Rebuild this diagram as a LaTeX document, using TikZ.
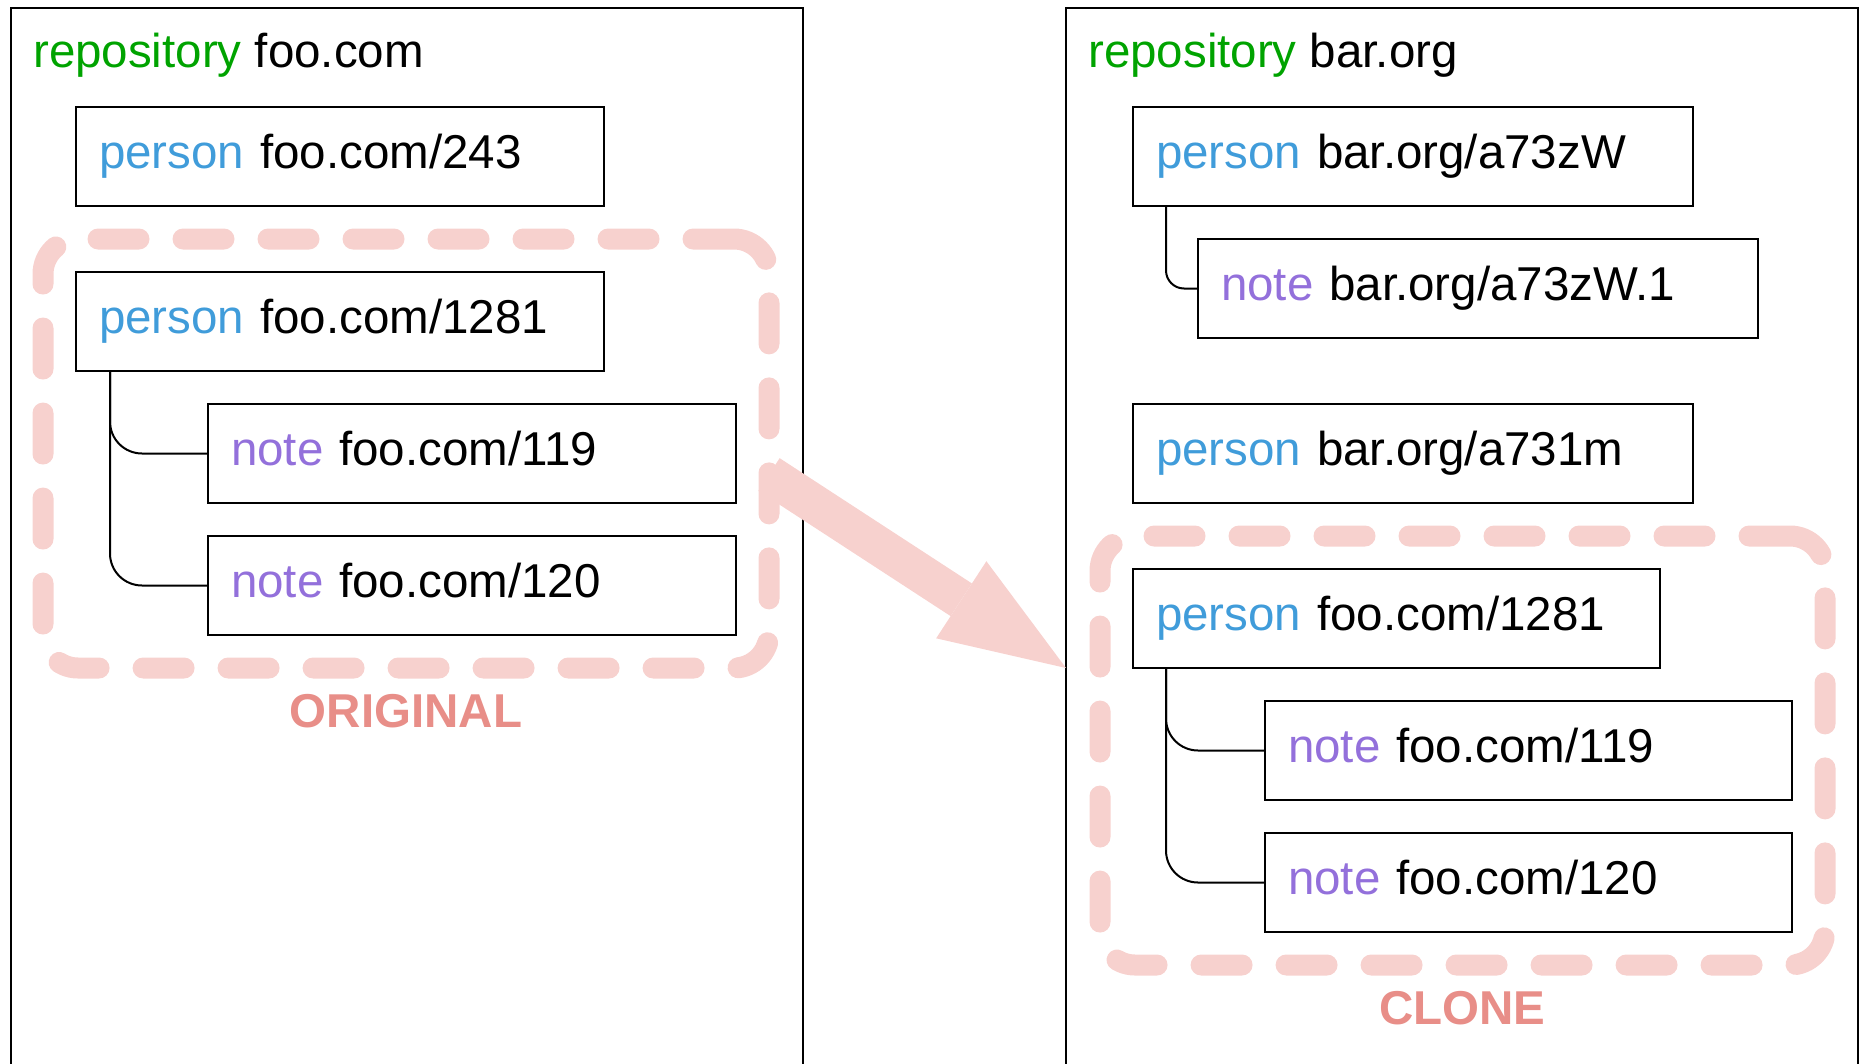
\documentclass[tikz,border=0pt]{standalone}
\usepackage{fontspec}
\setmainfont{Liberation Sans}
\usetikzlibrary{positioning, fit, arrows.meta}
\definecolor{repogreen}{RGB}{0,163,0}
\definecolor{personblue}{RGB}{64,156,218}
\definecolor{notepurple}{RGB}{147,112,219}
\definecolor{clonepink}{RGB}{247,209,206}
\definecolor{labelsalmon}{RGB}{232,142,136}

\begin{document}
\begin{tikzpicture}[
        x=1pt, y=-1pt,
        font=\fontsize{47.5pt}{57pt}\selectfont,
        repo/.style={draw, line width=2pt, inner sep=0pt, outer sep=0pt, minimum width=792pt, minimum height=1080pt},
        repotitle/.style={anchor=base west, inner sep=0pt},
        entity/.style={draw, line width=2.5pt, minimum height=99pt, text width=#1, align=left, inner xsep=23pt, inner ysep=0pt, outer sep=0pt, text height=34pt, text depth=11pt},
        entity/.default=482pt,
        tree/.style={line width=2pt, rounded corners=32pt},
        group/.style={draw=clonepink, line width=21pt, dash pattern=on 41pt off 44pt, line cap=round, rounded corners=35pt, inner sep=33pt, outer sep=0pt},
        grouplabel/.style={anchor=base, inner sep=0pt, text=labelsalmon, font=\fontsize{47.5pt}{57pt}\selectfont\bfseries},
        copyarrow/.style={draw=clonepink, line width=39pt, -{Triangle[length=125pt, width=92pt, line width=0pt]}}
    ]
        \useasboundingbox (0,0) rectangle (1862,1063);
        \clip (0,0) rectangle (1862,1063);

        % repositories
        \node[repo, anchor=north west] (leftrepo) at (11,8) {};
        \node[repo, anchor=north west] (rightrepo) at (1066,8) {};
        \node[repotitle] (lefttitle) at ([shift={(22,59)}]leftrepo.north west) {\textcolor{repogreen}{repository} foo.com};
        \node[repotitle] (righttitle) at ([shift={(22,59)}]rightrepo.north west) {\textcolor{repogreen}{repository} bar.org};

        % foo.com
        \node[entity, anchor=north west] (p243) at ([shift={(65,99)}]leftrepo.north west) {\textcolor{personblue}{person} foo.com/243};
        \node[entity, below=66pt of p243.south west, anchor=north west] (p1281) {\textcolor{personblue}{person} foo.com/1281};
        \node[entity, below=33pt of p1281.south west, anchor=north west, xshift=132pt] (n119) {\textcolor{notepurple}{note} foo.com/119};
        \node[entity, below=33pt of n119.south west, anchor=north west] (n120) {\textcolor{notepurple}{note} foo.com/120};

        \draw[tree] ([xshift=34pt]p1281.south west) |- (n119.west);
        \draw[tree] ([xshift=34pt]p1281.south west) |- (n120.west);

        % bar.org
        \node[entity=514pt, anchor=north west] (pA) at ([shift={(67,99)}]rightrepo.north west) {\textcolor{personblue}{person} bar.org/a73zW};
        \node[entity=514pt, below=33pt of pA.south west, anchor=north west, xshift=65pt] (nA1) {\textcolor{notepurple}{note} bar.org/a73zW.1};
        \node[entity=514pt, below=66pt of nA1.south west, anchor=north west, xshift=-65pt] (pB) {\textcolor{personblue}{person} bar.org/a731m};
        \node[entity=481pt, below=66pt of pB.south west, anchor=north west] (cp1281) {\textcolor{personblue}{person} foo.com/1281};
        \node[entity=481pt, below=33pt of cp1281.south west, anchor=north west, xshift=132pt] (cn119) {\textcolor{notepurple}{note} foo.com/119};
        \node[entity=481pt, below=33pt of cn119.south west, anchor=north west] (cn120) {\textcolor{notepurple}{note} foo.com/120};

        \draw[tree, rounded corners=18pt] ([xshift=33pt]pA.south west) |- (nA1.west);
        \draw[tree] ([xshift=33pt]cp1281.south west) |- (cn119.west);
        \draw[tree] ([xshift=33pt]cp1281.south west) |- (cn120.west);

        % original and clone
        \node[group, fit=(p1281)(n119)(n120)] (orig) {};
        \node[group, fit=(cp1281)(cn119)(cn120)] (clone) {};
        \node[grouplabel] (origlabel) at ([shift={(0,59)}]orig.south) {ORIGINAL};
        \node[grouplabel] (clonelabel) at ([shift={(0,59)}]clone.south) {CLONE};

        \path[copyarrow] ([shift={(0,21)}]orig.east) -- (rightrepo.west |- cp1281.south);
    \end{tikzpicture}
\end{document}
